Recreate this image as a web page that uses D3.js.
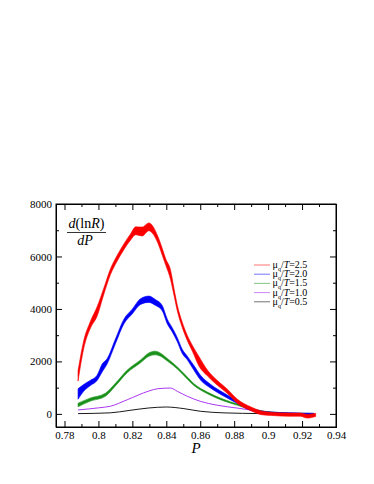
<!DOCTYPE html>
<html>
<head>
<meta charset="utf-8">
<script src="https://cdn.jsdelivr.net/npm/d3@7"></script>
<style>
body { margin: 0; background: #fff; }
text { font-family: "Liberation Serif", "DejaVu Serif", serif; }
</style>
</head>
<body>
<script>
var width = 374, height = 484;
var margin = {top: 204, right: 38, bottom: 57, left: 56};

// ---- data (P, d(lnR)/dP, half band width) ----
var p25   = [0.788,0.7913,0.7953,0.7992,0.8031,0.8071,0.811,0.815,0.819,0.822,0.8258,0.8297,0.8308,0.8347,0.8376,0.8396,0.8425,0.8445,0.8465,0.8494,0.8524,0.8553,0.8593,0.8642,0.8701,0.876,0.8819,0.890,0.896,0.902,0.912,0.919,0.923,0.928];
var val25 = [1450,2630,3400,3900,4660,5420,5930,6370,6750,6980,6950,7130,7100,6690,6180,5800,5300,4660,4030,3395,2890,2510,2000,1560,1180,860,480,190,40,0,-30,-30,-90,-40];
var err25 = [200,150,130,180,120,110,110,110,120,150,170,150,150,130,130,120,180,130,110,100,100,110,180,110,90,80,80,70,70,60,60,60,70,60];

var p20   = [0.788,0.7913,0.7953,0.7992,0.8022,0.8051,0.810,0.815,0.8199,0.8248,0.8297,0.8335,0.8376,0.8406,0.8435,0.8465,0.8494,0.8524,0.8563,0.8603,0.8662,0.874,0.8819,0.890,0.896,0.902,0.912,0.927];
var val20 = [760,990,1180,1370,1750,2000,2760,3520,3900,4280,4370,4250,4030,3520,3205,2825,2380,2130,1750,1370,1050,734,450,170,70,30,0,-20];
var err20 = [200,130,100,100,150,100,90,90,90,110,120,110,100,90,80,80,80,70,90,90,70,60,50,45,40,40,40,40];

var p15   = [0.788,0.795,0.8041,0.810,0.817,0.8248,0.8297,0.8335,0.8366,0.8406,0.8465,0.8514,0.8563,0.8642,0.874,0.882,0.890,0.898,0.906,0.916,0.927];
var val15 = [340,540,730,1115,1620,2000,2260,2320,2255,2064,1750,1430,1115,800,520,350,180,80,35,10,0];
var err15 = [70,60,60,50,50,55,65,70,60,50,40,40,35,30,30,25,25,20,20,20,20];

var p10   = [0.788,0.800,0.807,0.817,0.8297,0.835,0.8425,0.8465,0.8524,0.860,0.870,0.882,0.892,0.9015,0.912,0.927];
var val10 = [150,230,290,540,870,960,985,860,670,480,330,220,125,60,30,15];

var p05   = [0.788,0.807,0.818,0.8297,0.840,0.8504,0.860,0.874,0.885,0.900,0.927];
var val05 = [10,40,130,225,262,200,100,38,20,8,0];

var legendLabels = ["2.5", "2.0", "1.5", "1.0", "0.5"];
var legendColors = ["#ff0000", "#0000ff", "#1e961e", "#a020f0", "#000000"];
var xTicks = [0.78, 0.8, 0.82, 0.84, 0.86, 0.88, 0.9, 0.92, 0.94];
var yTicks = [0, 2000, 4000, 6000, 8000];

var svg = d3.select("body").append("svg")
    .attr("width", width)
    .attr("height", height);

var x = d3.scaleLinear().domain([0.775, 0.94]).range([margin.left, width - margin.right]);
var y = d3.scaleLinear().domain([-500, 8000]).range([height - margin.bottom, margin.top]);

function zip(ps, vs, es) {
    return ps.map(function(p, i) { return {p: p, v: vs[i], e: es ? es[i] : 0}; });
}

var area = d3.area()
    .x(function(d) { return x(d.p); })
    .y0(function(d) { return y(d.v - d.e); })
    .y1(function(d) { return y(d.v + d.e); })
    .curve(d3.curveMonotoneX);

var line = d3.line()
    .x(function(d) { return x(d.p); })
    .y(function(d) { return y(d.v); })
    .curve(d3.curveMonotoneX);

//*********** curves *******************
var thin = [
    {d: zip(p05, val05), c: legendColors[4]},
    {d: zip(p10, val10), c: legendColors[3]}
];
thin.forEach(function(s) {
    svg.append("path")
        .attr("d", line(s.d))
        .attr("fill", "none")
        .attr("stroke", s.c)
        .attr("stroke-width", 0.9);
});

var bands = [
    {d: zip(p15, val15, err15), c: legendColors[2], lc: "#0b6e0b"},
    {d: zip(p20, val20, err20), c: legendColors[1], lc: "#0000a8"},
    {d: zip(p25, val25, err25), c: legendColors[0], lc: "#c80000"}
];
bands.forEach(function(s) {
    svg.append("path")
        .attr("d", area(s.d))
        .attr("fill", s.c)
        .attr("stroke", s.c)
        .attr("stroke-width", 0.6);
    svg.append("path")
        .attr("d", line(s.d))
        .attr("fill", "none")
        .attr("stroke", s.lc)
        .attr("stroke-opacity", 0.6)
        .attr("stroke-width", 0.5);
});

//*********** axes: ticks on all four sides, pointing in *******************
var xMinor = d3.range(0.78, 0.9401, 0.01).filter(function(v) { return Math.round(v * 100) % 2 == 1; });
var yMinor = [1000, 3000, 5000, 7000];

svg.append("g")
    .attr("transform", "translate(0," + (height - margin.bottom) + ")")
    .call(d3.axisBottom(x).tickValues(xTicks).tickSize(-6).tickPadding(4)
        .tickFormat(function(d) { return d3.format("")(+d.toFixed(2)); }));
svg.append("g")
    .attr("transform", "translate(0," + (height - margin.bottom) + ")")
    .call(d3.axisBottom(x).tickValues(xMinor).tickSize(-3).tickFormat(""));
svg.append("g")
    .attr("transform", "translate(0," + margin.top + ")")
    .call(d3.axisTop(x).tickValues(xTicks).tickSize(-6).tickFormat(""));
svg.append("g")
    .attr("transform", "translate(0," + margin.top + ")")
    .call(d3.axisTop(x).tickValues(xMinor).tickSize(-3).tickFormat(""));

svg.append("g")
    .attr("transform", "translate(" + margin.left + ",0)")
    .call(d3.axisLeft(y).tickValues(yTicks).tickSize(-6).tickPadding(4).tickFormat(d3.format("d")));
svg.append("g")
    .attr("transform", "translate(" + margin.left + ",0)")
    .call(d3.axisLeft(y).tickValues(yMinor).tickSize(-3).tickFormat(""));
svg.append("g")
    .attr("transform", "translate(" + (width - margin.right) + ",0)")
    .call(d3.axisRight(y).tickValues(yTicks).tickSize(-6).tickFormat(""));
svg.append("g")
    .attr("transform", "translate(" + (width - margin.right) + ",0)")
    .call(d3.axisRight(y).tickValues(yMinor).tickSize(-3).tickFormat(""));

svg.selectAll("g")
    .attr("font-family", "Liberation Serif")
    .attr("font-size", 11);
svg.selectAll(".domain").attr("stroke", "#000").attr("stroke-width", 1);
svg.selectAll(".tick line").attr("stroke", "#000");
svg.selectAll(".tick text")
    .style("font-family", "'Liberation Serif', serif")
    .style("font-size", "11px")
    .attr("fill", "#000");

// frame
svg.append("rect")
    .attr("x", margin.left)
    .attr("y", margin.top)
    .attr("width", width - margin.left - margin.right)
    .attr("height", height - margin.top - margin.bottom)
    .attr("fill", "none")
    .attr("stroke", "#000");

//*********** labels *******************
svg.append("text")
    .attr("x", (margin.left + width - margin.right) / 2)
    .attr("y", 453)
    .attr("text-anchor", "middle")
    .style("font-size", "15px")
    .style("font-style", "italic")
    .text("P");

var num = svg.append("text")
    .attr("x", 86.5)
    .attr("y", 227.5)
    .attr("text-anchor", "middle")
    .style("font-size", "14px");
num.append("tspan").style("font-style", "italic").text("d");
num.append("tspan").text("(ln");
num.append("tspan").style("font-style", "italic").text("R");
num.append("tspan").text(")");
svg.append("line")
    .attr("x1", 67).attr("x2", 106)
    .attr("y1", 232.5).attr("y2", 232.5)
    .attr("stroke", "#000")
    .attr("stroke-width", 0.8);
svg.append("text")
    .attr("x", 85)
    .attr("y", 244.5)
    .attr("text-anchor", "middle")
    .style("font-size", "14px")
    .style("font-style", "italic")
    .text("dP");

//*********** legend *******************
legendLabels.forEach(function(lab, i) {
    var ly = 265 + i * 9.2;
    svg.append("line")
        .attr("x1", 254).attr("x2", 270)
        .attr("y1", ly).attr("y2", ly)
        .attr("stroke", legendColors[i])
        .attr("stroke-opacity", 0.55)
        .attr("stroke-width", 1);
    var t = svg.append("text")
        .attr("x", 272.5)
        .attr("y", ly + 3)
        .style("font-size", "10px");
    t.append("tspan").text("\u03bc");
    t.append("tspan").attr("dy", 3).style("font-size", "6px").text("q");
    t.append("tspan").attr("dy", -3).text("/");
    t.append("tspan").style("font-style", "italic").text("T");
    t.append("tspan").text("=" + lab);
});
</script>
</body>
</html>
